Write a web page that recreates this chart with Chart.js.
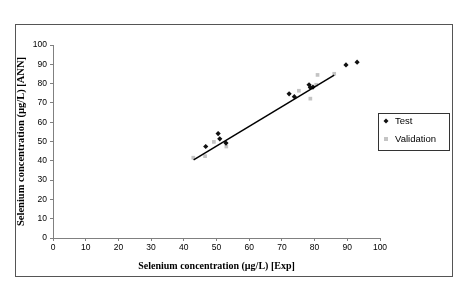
<!DOCTYPE html>
<html>
<head>
<meta charset="utf-8">
<script src="https://cdn.jsdelivr.net/npm/chart.js@4"></script>
<style>
  html, body { margin: 0; padding: 0; background: #fff; }
  #wrap { width: 466px; height: 290px; position: relative; }
</style>
</head>
<body>
<div id="wrap"><canvas id="c"></canvas></div>
<script>
const testExp = [46.7, 50.5, 51.0, 52.9, 72.2, 73.8, 78.3, 78.7, 79.5, 89.6, 93.0];
const testAnn = [47.4, 54.1, 51.4, 49.2, 74.7, 73.2, 79.4, 78.0, 78.2, 89.7, 91.1];
const valExp = [42.9, 46.5, 49.2, 53.0, 75.2, 78.7, 80.5, 80.9, 86.0];
const valAnn = [41.6, 42.4, 49.8, 47.4, 76.3, 72.2, 79.4, 84.5, 85.1];
const fitX = [43.0, 86.0];
const fitY = [40.5, 84.4];
const legendLabels = ['Test', 'Validation'];

const pts = (xs, ys) => xs.map((x, i) => ({ x, y: ys[i] }));
const AXIS = '#808080';
const TICK_FONT = { family: 'Liberation Sans, Arial, sans-serif', size: 8.5 };

// outer frame + legend box, drawn the way the spreadsheet did it
const framePlugin = {
  id: 'frame',
  afterDraw(chart) {
    const ctx = chart.ctx;
    ctx.save();
    ctx.strokeStyle = '#555';
    ctx.lineWidth = 1;
    ctx.strokeRect(15.5, 24.5, 437, 252);

    ctx.strokeStyle = '#333';
    ctx.strokeRect(378.5, 113.5, 71, 37);
    ctx.font = '9.5px Liberation Sans, Arial, sans-serif';
    ctx.fillStyle = '#000';
    ctx.textBaseline = 'middle';
    const rows = [121, 139];
    legendLabels.forEach((txt, i) => {
      const ds = chart.data.datasets[i];
      const y = rows[i];
      ctx.fillStyle = ds.backgroundColor;
      ctx.beginPath();
      if (ds.pointStyle === 'rectRot') {
        ctx.moveTo(386, y - 2.5); ctx.lineTo(388.5, y); ctx.lineTo(386, y + 2.5); ctx.lineTo(383.5, y);
      } else {
        ctx.rect(384, y - 2, 4, 4);
      }
      ctx.fill();
      ctx.fillStyle = '#000';
      ctx.fillText(txt, 395, y);
    });
    ctx.restore();
  }
};

new Chart(document.getElementById('c'), {
  data: {
    datasets: [
      {
        type: 'scatter', label: 'Test', data: pts(testExp, testAnn),
        pointStyle: 'rectRot', pointRadius: 2.6, backgroundColor: '#111', borderColor: '#111', borderWidth: 0, order: 1
      },
      {
        type: 'scatter', label: 'Validation', data: pts(valExp, valAnn),
        pointStyle: 'rect', pointRadius: 2.6, backgroundColor: '#c4c4c4', borderColor: '#c4c4c4', borderWidth: 0, order: 2
      },
      {
        type: 'line', label: 'fit', data: pts(fitX, fitY),
        borderColor: '#000', borderWidth: 1.5, pointRadius: 0, fill: false, order: 0
      }
    ]
  },
  options: {
    responsive: true,
    maintainAspectRatio: false,
    animation: false,
    layout: { padding: { left: 0, right: 86, top: 45, bottom: 0 } },
    plugins: { legend: { display: false }, tooltip: { enabled: false } },
    scales: {
      x: {
        type: 'linear', min: 0, max: 100,
        ticks: { stepSize: 10, color: '#000', font: TICK_FONT, padding: 2 },
        grid: { drawOnChartArea: false, drawTicks: true, tickLength: 3, color: AXIS },
        border: { color: AXIS },
        title: {
          display: true, text: 'Selenium concentration (µg/L) [Exp]', color: '#000',
          font: { family: 'Liberation Serif, Times New Roman, serif', size: 10, weight: 'bold' },
          padding: { top: 0, bottom: 18 }
        },
        afterFit(s) { s.height = 52; }
      },
      y: {
        type: 'linear', min: 0, max: 100,
        ticks: { stepSize: 10, color: '#000', font: TICK_FONT, padding: 3 },
        grid: { drawOnChartArea: false, drawTicks: true, tickLength: 3, color: AXIS },
        border: { color: AXIS },
        title: {
          display: true, text: 'Selenium concentration (µg/L) [ANN]', color: '#000',
          font: { family: 'Liberation Serif, Times New Roman, serif', size: 10.5, weight: 'bold' },
          padding: { top: 15, bottom: 0 }
        },
        afterFit(s) { s.width = 53; }
      }
    }
  },
  plugins: [framePlugin]
});
</script>
</body>
</html>
